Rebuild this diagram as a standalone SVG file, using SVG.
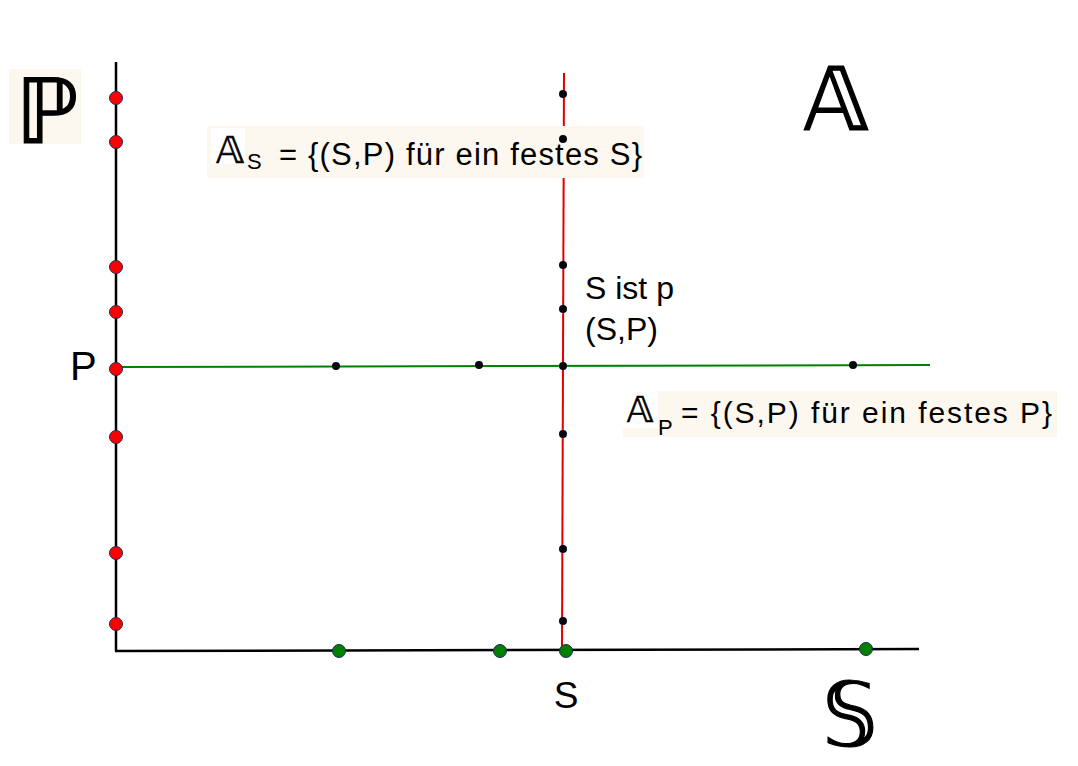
<svg xmlns="http://www.w3.org/2000/svg" width="1078" height="766" viewBox="0 0 1078 766">
<style>
  .t { font-family: "Liberation Sans", Arial, sans-serif; fill: #000; }
  .ds { font-family: "DejaVu Sans", "Noto Sans", sans-serif; fill: #000; }
  .big { stroke: #000; stroke-width: 1.2; }
  .bg { fill: #fdf8ef; }
  .wb { fill: #ffffff; }
  .axis { stroke: #000; stroke-width: 2.5; fill: none; }
  .rdot { fill: #ff0000; stroke: #1c2a5c; stroke-width: 1; }
  .gdot { fill: #008000; stroke: #1c2a5c; stroke-width: 1; }
  .kdot { fill: #050510; }
</style>
<rect width="1078" height="766" fill="#ffffff"/>

<g id="connectors">
  <line id="axis-P" class="axis" x1="116" y1="62" x2="116" y2="651"/>
  <line id="axis-S" class="axis" x1="115" y1="651" x2="919" y2="649"/>
  <line id="line-AP" x1="116" y1="367" x2="930" y2="365" stroke="#008000" stroke-width="2"/>
  <line id="line-AS" x1="564" y1="73" x2="562" y2="651" stroke="#e00000" stroke-width="2"/>
</g>

<g id="label-P-set">
  <rect class="bg" x="9" y="69" width="72" height="75"/>
  <text class="ds big" x="47" y="143" font-size="90" text-anchor="middle">ℙ</text>
</g>

<g id="label-A-set">
  <text class="ds big" x="836" y="130" font-size="88" text-anchor="middle">𝔸</text>
</g>

<g id="label-S-set">
  <text class="ds big" x="850" y="745" font-size="88" text-anchor="middle">𝕊</text>
</g>

<g id="label-AS">
  <rect class="bg" x="207" y="126" width="437" height="52"/>
  <rect class="wb" x="211" y="128" width="34" height="36"/>
  <text class="ds" x="230" y="163" font-size="38" stroke="#000" stroke-width="0.6" text-anchor="middle">𝔸</text>
  <text class="t" x="247" y="169" font-size="22">S</text>
  <text class="t" x="279" y="165" font-size="31" textLength="363" lengthAdjust="spacing">= {(S,P) für ein festes S}</text>
</g>

<g id="label-AP">
  <rect class="bg" x="623" y="391" width="434" height="46"/>
  <rect class="wb" x="623" y="391" width="35" height="37"/>
  <text class="ds" x="640" y="422" font-size="36" stroke="#000" stroke-width="0.6" text-anchor="middle">𝔸</text>
  <text class="t" x="658" y="435" font-size="22">P</text>
  <text class="t" x="681" y="423" font-size="30" textLength="371" lengthAdjust="spacing">= {(S,P) für ein festes P}</text>
</g>

<g id="label-SP">
  <text class="t" x="585" y="299" font-size="32">S ist p</text>
  <text class="t" x="585" y="340" font-size="32">(S,P)</text>
</g>

<g id="label-P">
  <text class="t" x="70" y="380" font-size="40">P</text>
</g>

<g id="label-S">
  <text class="t" x="566" y="708" font-size="37" text-anchor="middle">S</text>
</g>

<g id="points-P">
  <circle class="rdot" cx="116" cy="98" r="6.5"/>
  <circle class="rdot" cx="116" cy="142" r="6.5"/>
  <circle class="rdot" cx="116" cy="267" r="6.5"/>
  <circle class="rdot" cx="116" cy="312" r="6.5"/>
  <circle class="rdot" cx="116" cy="369" r="6.5"/>
  <circle class="rdot" cx="116" cy="437" r="6.5"/>
  <circle class="rdot" cx="116" cy="553" r="6.5"/>
  <circle class="rdot" cx="116" cy="624" r="6.5"/>
</g>

<g id="points-S">
  <circle class="gdot" cx="339" cy="651" r="6.5"/>
  <circle class="gdot" cx="500" cy="651" r="6.5"/>
  <circle class="gdot" cx="566" cy="651" r="6.5"/>
  <circle class="gdot" cx="866" cy="649" r="6.5"/>
</g>

<g id="points-AS">
  <circle class="kdot" cx="563" cy="94" r="4"/>
  <circle class="kdot" cx="563" cy="139" r="4"/>
  <circle class="kdot" cx="563" cy="265" r="4"/>
  <circle class="kdot" cx="563" cy="309" r="4"/>
  <circle class="kdot" cx="563" cy="366" r="4"/>
  <circle class="kdot" cx="563" cy="434" r="4"/>
  <circle class="kdot" cx="563" cy="549" r="4"/>
  <circle class="kdot" cx="563" cy="621" r="4"/>
</g>

<g id="points-AP">
  <circle class="kdot" cx="336" cy="366" r="4"/>
  <circle class="kdot" cx="479" cy="365" r="4"/>
  <circle class="kdot" cx="853" cy="365" r="4"/>
</g>
</svg>
